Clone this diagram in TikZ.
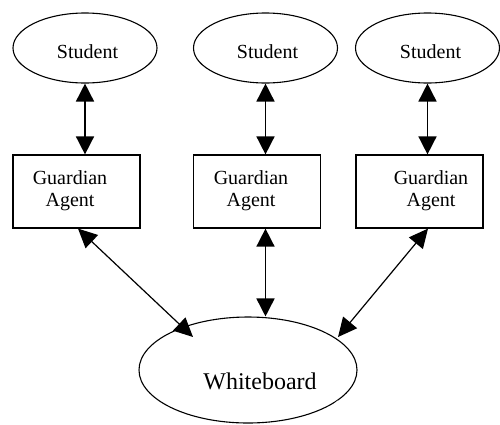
\documentclass[tikz,border=0pt]{standalone}
\usepackage{fontspec}
\setmainfont{Liberation Serif}
\usetikzlibrary{arrows.meta,calc,shapes.geometric}
\begin{document}
\begin{tikzpicture}[x=1pt,y=-1pt,
  stud/.style={draw,ellipse,line width=1.1pt,minimum width=144pt,minimum height=70pt,inner sep=0pt},
  gbox/.style={draw,rectangle,line width=1.2pt,minimum width=127pt,minimum height=73pt,inner sep=0pt},
  wbell/.style={draw,ellipse,line width=1.1pt,minimum width=218pt,minimum height=106pt,inner sep=0pt},
  txt/.style={font=\fontsize{20}{22}\selectfont,align=center,inner sep=0pt},
  bigtxt/.style={font=\fontsize{24}{26}\selectfont,inner sep=0pt},
  link/.style={{Triangle[length=18pt,width=18pt]}-{Triangle[length=18pt,width=18pt]},line width=1.6pt},
  dlink/.style={{Triangle[length=19pt,width=18pt]}-{Triangle[length=19pt,width=18pt]},line width=1.2pt}]
\fill[white] (0,0) rectangle (500,424);
\useasboundingbox (0,0) rectangle (500,424);
% students
\node[stud] (s1) at (85,48) {};
\node[stud] (s2) at (265.5,48) {};
\node[stud] (s3) at (427.5,48) {};
\node[txt] (s1t) at (87.5,52) {Student};
\node[txt] (s2t) at (267.5,52) {Student};
\node[txt] (s3t) at (430.5,52) {Student};
% guardian boxes
\node[gbox] (g1) at (76.5,191.5) {};
\node[gbox] (g2) at (257,191.5) {};
\node[gbox] (g3) at (419.5,191.5) {};
\node[txt] (g1t) at (70,191) {Guardian\\Agent};
\node[txt] (g2t) at (251,191) {Guardian\\Agent};
\node[txt] (g3t) at (431,191) {Guardian\\Agent};
% whiteboard
\node[wbell] (wb) at (248,370) {};
\node[bigtxt] (wbt) at (260,381) {Whiteboard};
\draw[white,line width=3pt] (338.5,401.8) -- (332,407.8);
% connectors
\draw[link] (s1.south) -- (s1.south |- g1.north);
\draw[link] (s2.south) -- (s2.south |- g2.north);
\draw[link] (s3.south) -- (s3.south |- g3.north);
\draw[link] (g2.south -| s2.south) -- (wb.north -| s2.south);
\draw[dlink] ($(g1.south)+(1.5,0)$) -- ($(wb.center)+(-55,-33)$);
\draw[dlink] ($(g3.south)+(8.5,0)$) -- ($(wb.center)+(90,-33)$);
\end{tikzpicture}
\end{document}
